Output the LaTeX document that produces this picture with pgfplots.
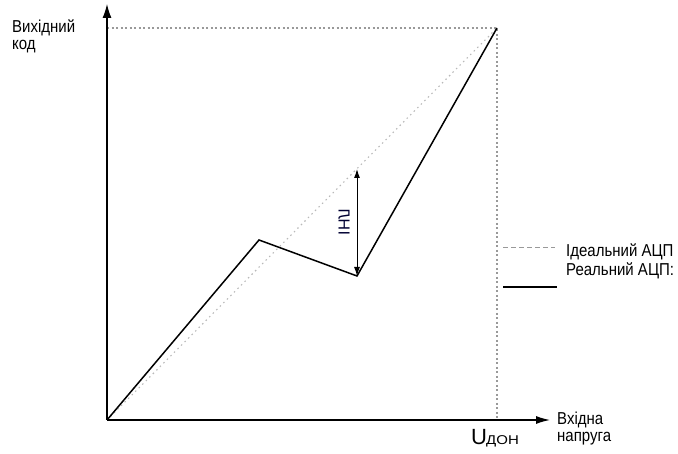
\documentclass[border=0pt]{standalone}
\usepackage{pgfplots}
\pgfplotsset{compat=1.18}
\usepackage{fontspec}
\setmainfont{Liberation Sans}
\usetikzlibrary{arrows.meta}
\tikzset{lbl/.style={font=\fontsize{15}{17}\selectfont, yscale=1.15}}
\begin{document}
\begin{tikzpicture}
\begin{axis}[
  width=678pt, height=454pt, scale only axis,
  xmin=0, xmax=678, ymin=0, ymax=454,
  axis lines=none, clip=false,
]
\coordinate (sw) at (axis cs:0,0);
\coordinate (ne) at (axis cs:678,454);
% guide dotted lines
\addplot[gray!80, line width=1.2pt, dash pattern=on 2pt off 2.5pt] coordinates {(107,426) (497,426) (497,34)};
% ideal
\addplot[gray!55, line width=1.1pt, dash pattern=on 1.5pt off 3.5pt] coordinates {(107,34) (497,426)};
% real
\addplot[black, line width=1.5pt] coordinates {(107,34) (259,214) (357,178) (497,426)};
% axes
\addplot[black, line width=1.2pt, -{Latex[length=14pt,width=9pt]}] coordinates {(107,34) (107,450)};
\addplot[black, line width=1.2pt, -{Latex[length=14pt,width=8pt]}] coordinates {(107,34) (550,34)};
% INL arrow
\addplot[black, line width=1pt, {Latex[length=9pt,width=6pt]}-{Latex[length=9pt,width=6pt]}] coordinates {(357,178) (357,285)};
% legend samples
\addplot[gray!80, line width=1pt, dash pattern=on 5pt off 3pt] coordinates {(503,206) (555,206)};
\addplot[black, line width=1.6pt] coordinates {(503,167) (557,167)};
% texts
\node[lbl, anchor=base west, inner sep=0pt] at (axis cs:566,197) {Ідеальний АЦП};
\node[lbl, anchor=base west, inner sep=0pt] at (axis cs:566,178) {Реальний АЦП:};
\node[lbl, anchor=base west, inner sep=0pt] at (axis cs:12,421) {Вихідний};
\node[lbl, anchor=base west, inner sep=0pt] at (axis cs:12,404) {код};
\node[lbl, anchor=base west, inner sep=0pt] at (axis cs:557,29) {Вхідна};
\node[lbl, anchor=base west, inner sep=0pt] at (axis cs:557,12) {напруга};
\node[font=\fontsize{16}{18}\selectfont, xscale=-1, rotate=90, text=black!80!blue] at (axis cs:344,232) {ІНЛ};
\node[anchor=base west, inner sep=0pt, font=\fontsize{22}{24}\selectfont] at (axis cs:471,9) {U};
\node[font=\fontsize{15}{17}\selectfont, yscale=0.85, anchor=base west, inner sep=0pt] at (axis cs:486,9) {ДОН};
\end{axis}
\pgfresetboundingbox
\path (sw) rectangle (ne);
\end{tikzpicture}
\end{document}
